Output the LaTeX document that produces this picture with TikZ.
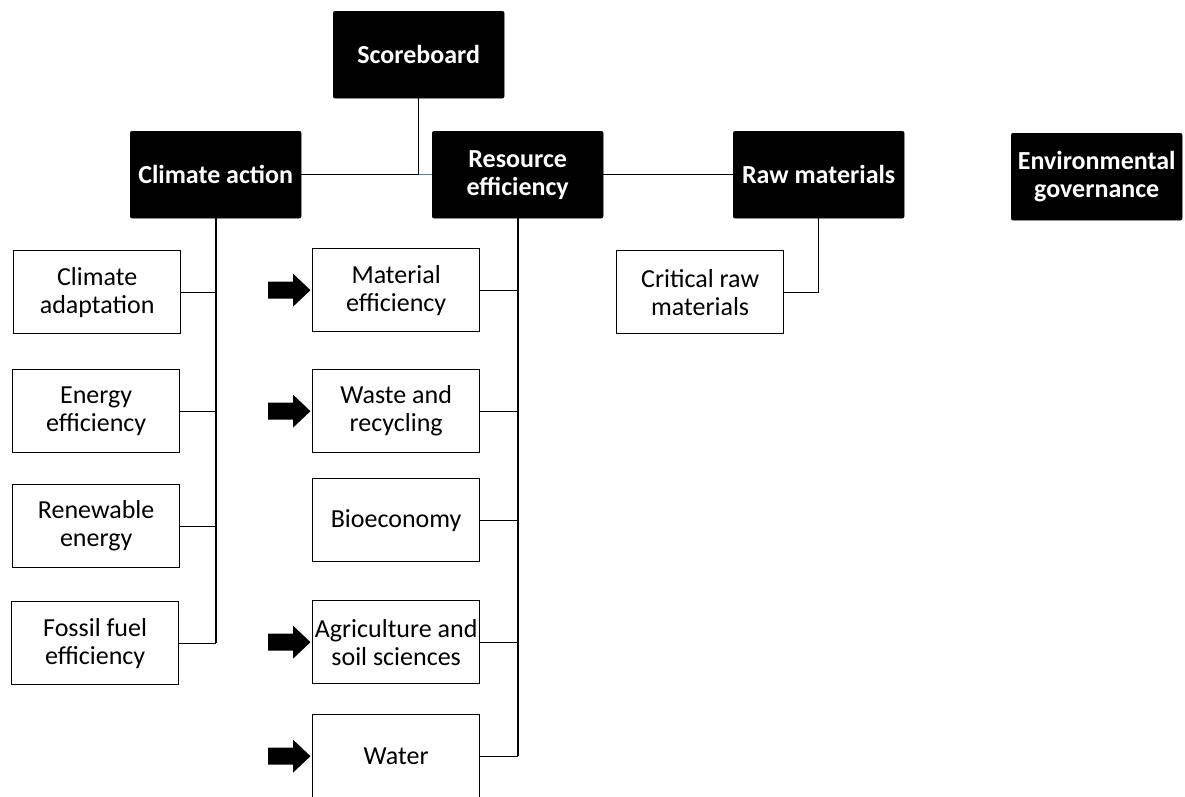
\documentclass[tikz,border=0pt]{standalone}
\usepackage{fontspec}
\setmainfont{Carlito}
\usetikzlibrary{calc}
\definecolor{officeblue}{RGB}{79,129,189}
\tikzset{
  base/.style={font=\fontsize{26}{28}\selectfont, align=center, inner sep=0pt, anchor=north west},
  headbox/.style={base, fill=black, draw=black, text=white, font=\fontsize{26}{28}\selectfont\bfseries,
    rounded corners=2pt, minimum width=171, minimum height=87},
  leafbox/.style={base, draw=black, line width=1.3pt, fill=white, minimum width=167, minimum height=83},
  conn/.style={line width=1.3pt, draw=black},
  trunk/.style={line width=2pt, draw=black},
  barrow/.pic={\fill[black] (-44,-8.5) -- (-19,-8.5) -- (-19,-16.5) -- (-1.5,0) -- (-19,16.5) -- (-19,8.5) -- (-44,8.5) -- cycle;}
}
\begin{document}
\begin{tikzpicture}[x=1pt,y=-1pt]
\useasboundingbox (0,0) rectangle (1185,796);
% head boxes
\node[headbox] (sb) at (333,11) {Scoreboard};
\node[headbox] (ca) at (130,131) {Climate action};
\node[headbox] (re) at (432,131) {Resource\\efficiency};
\node[headbox] (rm) at (733,131) {Raw materials};
\node[headbox] (eg) at (1011,133) {Environmental\\governance};
% climate action leaves
\node[leafbox] (cad) at (13,250) {Climate\\adaptation};
\node[leafbox] (cee) at (12,369) {Energy\\efficiency};
\node[leafbox] (cre) at (12,484) {Renewable\\energy};
\node[leafbox] (cff) at (11,601) {Fossil fuel\\efficiency};
% resource efficiency leaves
\node[leafbox] (rme) at (312,248) {Material\\efficiency};
\node[leafbox] (rwr) at (312,369) {Waste and\\recycling};
\node[leafbox] (rbe) at (312,478) {Bioeconomy};
\node[leafbox] (ras) at (312,600) {Agriculture and\\soil sciences};
\node[leafbox] (rwa) at (312,714) {Water};
% raw materials leaf
\node[leafbox] (crm) at (616,250) {Critical raw\\materials};
% top connectors
\coordinate (j) at (sb.south |- ca.east);
\draw[conn] (sb.south) -- (j);
\draw[conn] (ca.east) -- (j);
\draw[conn, draw=officeblue] (j) -- (re.west);
\draw[conn] (re.east) -- (rm.west);
% climate action tree
\draw[trunk] (ca.south) -- (ca.south |- cff.east);
\foreach \c in {cad,cee,cre,cff} \draw[conn] (\c.east) -- (ca.south |- \c.east);
% resource efficiency tree
\draw[trunk] (re.south) -- (re.south |- rwa.east);
\foreach \c in {rme,rwr,rbe,ras,rwa} \draw[conn] (\c.east) -- (re.south |- \c.east);
% raw materials
\draw[conn] (rm.south) |- (crm.east);
% block arrows
\foreach \c in {rme,rwr,ras,rwa} \pic at (\c.west) {barrow};
\end{tikzpicture}
\end{document}
